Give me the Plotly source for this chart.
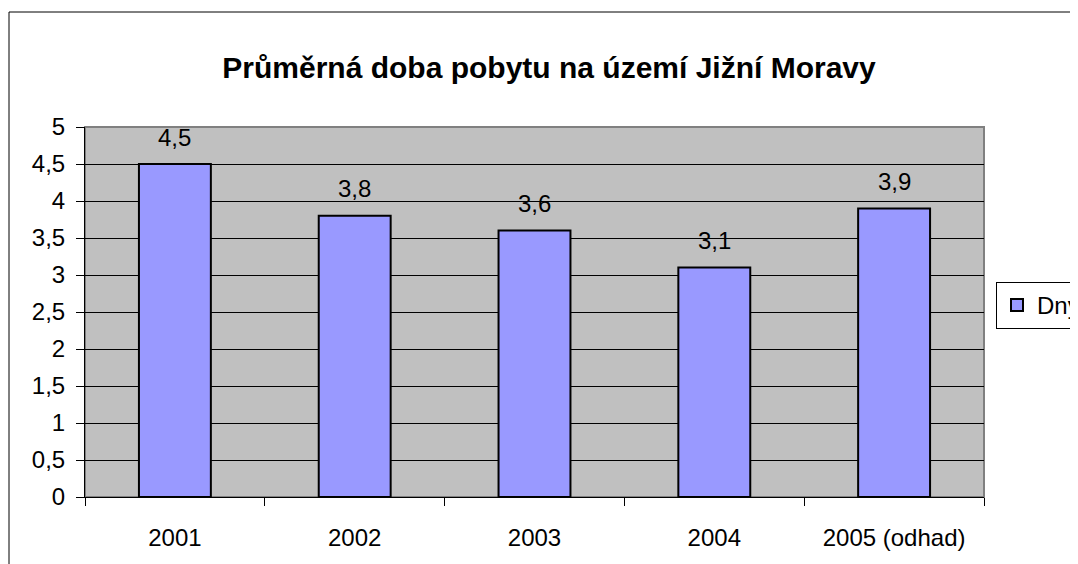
import plotly.graph_objects as go

categories = ["2001", "2002", "2003", "2004", "2005 (odhad)"]
values = [4.5, 3.8, 3.6, 3.1, 3.9]
value_labels = ["4,5", "3,8", "3,6", "3,1", "3,9"]
y_tickvals = [0, 0.5, 1, 1.5, 2, 2.5, 3, 3.5, 4, 4.5, 5]
y_ticktext = ["0", "0,5", "1", "1,5", "2", "2,5", "3", "3,5", "4", "4,5", "5"]
series_name = "Dny"
title_text = "Průměrná doba pobytu na území Jižní Moravy"

# page body has an 8px margin, so work in page pixels minus 8
OFF = 8
W, H = 1078 - OFF, 564 - OFF
L, R, T, B = 85 - OFF, 1078 - 984, 127 - OFF, 564 - 497
pw, ph = W - L - R, H - T - B

FONT = "Liberation Sans, Arial, sans-serif"
FS = 24


def px_x(x):
    return (x - OFF - L) / pw


def px_y(y):
    return (H - B - (y - OFF)) / ph


fig = go.Figure()
fig.add_trace(go.Bar(
    x=categories, y=values, name=series_name,
    marker=dict(color="#9999FF", line=dict(color="black", width=2)),
    showlegend=True,
))

for i, (v, t) in enumerate(zip(values, value_labels)):
    fig.add_annotation(x=i, y=v, text=t, showarrow=False, yshift=27,
                       font=dict(size=FS, color="black", family=FONT))

shapes = [
    dict(type="rect", xref="paper", yref="paper",
         x0=px_x(9), x1=px_x(1100), y0=px_y(600), y1=px_y(12),
         line=dict(color="black", width=1), layer="below"),
    dict(type="rect", xref="paper", yref="paper",
         x0=0, x1=1, y0=0, y1=1,
         line=dict(color="#808080", width=2), layer="below"),
]

fig.update_layout(
    width=W, height=H,
    margin=dict(l=L, r=R, t=T, b=B, autoexpand=False),
    paper_bgcolor="white", plot_bgcolor="#C0C0C0",
    font=dict(family=FONT, size=FS, color="black"),
    title=dict(text="<b>" + title_text + "</b>", x=(549 - OFF) / W,
               xanchor="center",
               y=1 - (67 - OFF) / H, yanchor="middle",
               font=dict(size=30, family=FONT, color="black")),
    bargap=0.6,
    shapes=shapes,
    legend=dict(x=px_x(996), xanchor="left", y=px_y(305.5), yanchor="middle",
                bordercolor="black", borderwidth=1, bgcolor="white",
                font=dict(size=FS, family=FONT),
                itemwidth=30, tracegroupgap=0),
    xaxis=dict(type="category", range=[-0.5, len(categories) - 0.5],
               showline=True, linecolor="black", linewidth=1,
               ticks="outside", ticklen=8, tickcolor="black",
               tickson="boundaries", ticklabelstandoff=19,
               showgrid=False, zeroline=False,
               tickfont=dict(size=FS, family=FONT)),
    yaxis=dict(range=[0, 5], tickvals=y_tickvals, ticktext=y_ticktext,
               showline=True, linecolor="black", linewidth=1,
               ticks="outside", ticklen=8, tickcolor="black",
               ticklabelstandoff=6,
               showgrid=True, gridcolor="black", gridwidth=1,
               zeroline=False,
               tickfont=dict(size=FS, family=FONT)),
)

fig.write_html("out.html")
